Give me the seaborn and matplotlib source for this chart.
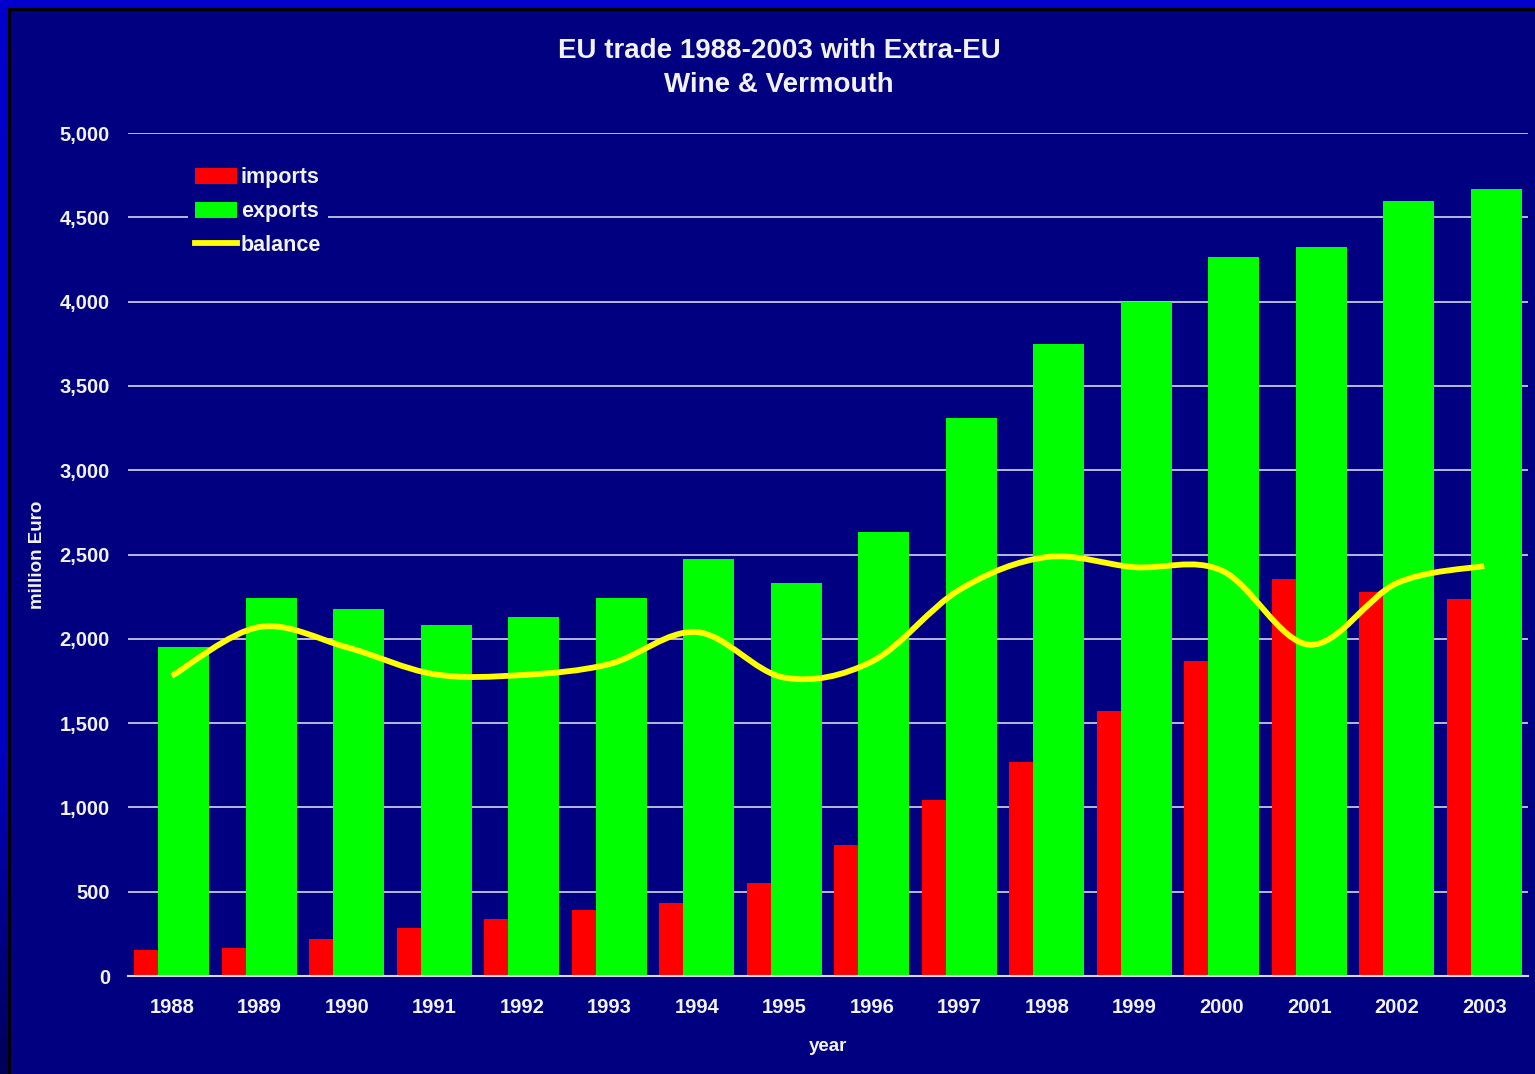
import matplotlib
matplotlib.use("Agg")
import matplotlib.pyplot as plt
import numpy as np
import seaborn as sns
from matplotlib.patches import Patch, PathPatch, Rectangle
from matplotlib.lines import Line2D
from matplotlib.path import Path

# Données (millions d'euros)
years = [1988, 1989, 1990, 1991, 1992, 1993, 1994, 1995,
         1996, 1997, 1998, 1999, 2000, 2001, 2002, 2003]
imports = [155, 168, 221, 287, 340, 393, 433, 552,
           777, 1044, 1269, 1572, 1868, 2357, 2278, 2236]
exports = [1950, 2240, 2175, 2080, 2130, 2240, 2475, 2330,
           2635, 3310, 3750, 3995, 4265, 4322, 4599, 4666]
balance = [1780, 2070, 1950, 1790, 1785, 1850, 2040, 1770,
           1865, 2290, 2485, 2425, 2405, 1965, 2330, 2432]
y_ticks = [0, 500, 1000, 1500, 2000, 2500, 3000, 3500, 4000, 4500, 5000]

NAVY = "#000080"
BLUE = "#0000CC"
TXT = "#F2F2F2"
GRID = "#D8D8EC"

plt.rcParams["font.family"] = ["Liberation Sans", "DejaVu Sans"]
plt.rcParams["font.weight"] = "bold"

W, H = 1535, 1074
fig = plt.figure(figsize=(W / 100, H / 100), dpi=100, facecolor=NAVY)

# cadre bleu (gauche + haut) avec liseré noir
strip = fig.add_axes([0, 0, 8 / W, 1])
grad = np.interp(np.linspace(0, 1, 200), [0, 0.7, 1], [0.8, 0.75, 0.35])
arr = np.zeros((200, 1, 3))
arr[:, 0, 2] = grad
strip.imshow(arr, aspect="auto", extent=[0, 1, 0, 1])
strip.axis("off")
fig.patches.append(Rectangle((0, 1 - 8 / H), 1, 8 / H, transform=fig.transFigure,
                             facecolor=BLUE, edgecolor="none", zorder=5))
fig.patches.append(Rectangle((8 / W, 0), 2.5 / W, 1 - 8 / H, transform=fig.transFigure,
                             facecolor="black", edgecolor="none", zorder=5))
fig.patches.append(Rectangle((8 / W, 1 - 10.5 / H), 1, 2.5 / H, transform=fig.transFigure,
                             facecolor="black", edgecolor="none", zorder=5))

ax = fig.add_axes([128 / W, 98 / H, 1400 / W, 843 / H])
ax.set_facecolor(NAVY)

# barres : imports derrière, exports devant (chevauchement)
off = 0.137
sns.barplot(x=np.array(years) - off, y=imports, native_scale=True, width=0.583,
            color="#FF0000", saturation=1, ax=ax, zorder=3, linewidth=0)
sns.barplot(x=np.array(years) + off, y=exports, native_scale=True, width=0.583,
            color="#00FF00", saturation=1, ax=ax, zorder=4, linewidth=0)

# solde : courbe lissée (Bézier type Catmull-Rom)
px = np.array(years, dtype=float)
py = np.array(balance, dtype=float)
pts = np.column_stack([px, py])
ext = np.vstack([pts[0], pts, pts[-1]])
verts = [tuple(pts[0])]
codes = [Path.MOVETO]
for i in range(len(pts) - 1):
    p0, p1, p2, p3 = ext[i], ext[i + 1], ext[i + 2], ext[i + 3]
    c1 = p1 + (p2 - p0) / 6
    c2 = p2 - (p3 - p1) / 6
    verts += [tuple(c1), tuple(c2), tuple(p2)]
    codes += [Path.CURVE4] * 3
ax.add_patch(PathPatch(Path(verts, codes), facecolor="none", edgecolor="#FFFF00",
                       lw=4.2, zorder=6, joinstyle="round", capstyle="butt"))

ax.set_xlim(1987.5, 2003.5)
ax.set_ylim(0, 5000)
ax.set_xticks(years)
ax.set_xticklabels([str(y) for y in years])
ax.set_yticks(y_ticks)
ax.set_yticklabels([f"{v:,}" for v in y_ticks])
ax.yaxis.grid(True, color=GRID, lw=1.2, zorder=1)
ax.xaxis.grid(False)
ax.set_axisbelow(True)
for s in ["top", "right", "left"]:
    ax.spines[s].set_visible(False)
ax.spines["bottom"].set_color(GRID)
ax.spines["bottom"].set_linewidth(1.5)
ax.spines["bottom"].set_zorder(7)
ax.tick_params(axis="both", length=0, colors=TXT, labelsize=14.5)
ax.tick_params(axis="x", pad=16)
ax.tick_params(axis="y", pad=13)

ax.set_xlabel("year", color=TXT, fontsize=13.5, fontweight="bold", labelpad=15)
ax.set_ylabel("million Euro", color=TXT, fontsize=13.5, fontweight="bold", labelpad=10)

fig.text(779 / W, 1 - 68 / H, "EU trade 1988-2003 with Extra-EU\nWine & Vermouth",
         ha="center", va="center", color=TXT, fontsize=20, fontweight="bold",
         linespacing=1.4)

handles = [Patch(facecolor="#FF0000", edgecolor="none"),
           Patch(facecolor="#00FF00", edgecolor="none"),
           Line2D([], [], color="#FFFF00", lw=4.2)]
leg = ax.legend(handles, ["imports", "exports", "balance"], loc="upper left",
                bbox_to_anchor=(0.043, 0.967), frameon=True, facecolor=NAVY,
                edgecolor="none", framealpha=1, fontsize=15.5, labelcolor=TXT,
                handlelength=1.95, handleheight=0.75, handletextpad=0.2,
                labelspacing=0.6, borderpad=0.3, borderaxespad=0)
leg.set_zorder(8)
for t in leg.get_texts():
    t.set_fontweight("bold")

fig.savefig("out.png", dpi=100, facecolor=NAVY)
